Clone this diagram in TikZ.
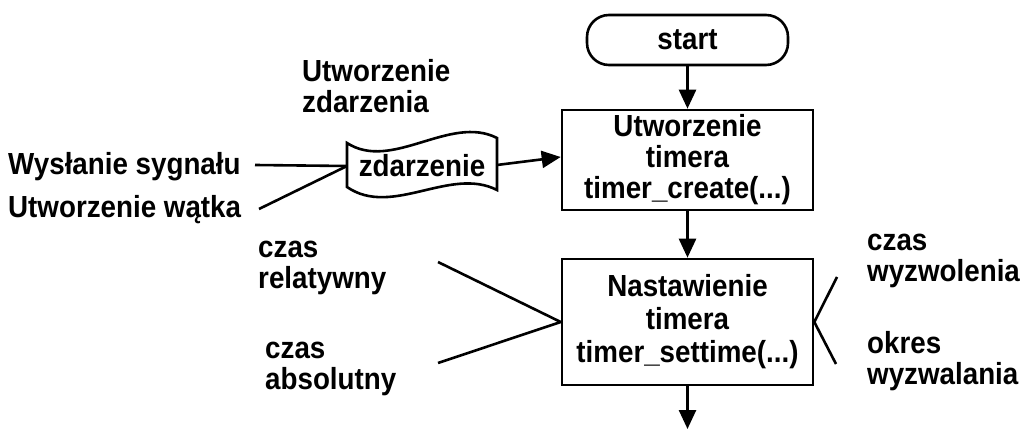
\documentclass[tikz,border=0pt]{standalone}
\usepackage{fontspec}
\setmainfont{Liberation Sans}[FakeStretch=0.91]
\usetikzlibrary{arrows.meta}
\begin{document}
\begin{tikzpicture}[x=1pt,y=-1pt,
  lbl/.style={font=\bfseries\fontsize{30.5}{31}\selectfont, inner sep=0pt, align=left, anchor=base west},
  boxtxt/.style={font=\bfseries\fontsize{30.5}{31}\selectfont, align=center},
  procbox/.style={draw, line width=2.6pt, inner sep=0pt, boxtxt},
  ln/.style={line width=2.6pt},
  arr/.style={line width=2.6pt, -{Triangle[length=19pt,width=17pt]}}]
\useasboundingbox (0,0) rectangle (1025,430);

% flow nodes
\node[procbox, rounded corners=22pt, minimum width=201pt, minimum height=50pt] (start) at (687.5,40) {start};
\node[procbox, minimum width=251pt, minimum height=100pt] (create) at (687.5,160) {Utworzenie\\timera\\timer\_create(...)};
\node[procbox, minimum width=251pt, minimum height=126pt, font=\bfseries\fontsize{30.5}{33}\selectfont] (settime) at (687.5,322) {Nastawienie\\timera\\timer\_settime(...)};
\coordinate (out) at (687.5,429);

% event (tape shape)
\node[boxtxt, inner sep=0pt, minimum width=150pt, minimum height=46pt] (zd) at (422,166) {zdarzenie};
\draw[ln, line join=miter]
  (347,143) .. controls (392,172) and (450,114) .. (497,138)
  -- (497,190)
  .. controls (450,166) and (392,218) .. (347,187) -- cycle;
\coordinate (zdw) at (347,166);
\coordinate (zde) at (497,165);

% labels (anchor = baseline of the last line)
\node[lbl] (lblUz) at (302,113) {Utworzenie\\zdarzenia};
\node[lbl] (lblWs) at (8,175) {Wysłanie sygnału};
\node[lbl] (lblUw) at (8,218) {Utworzenie wątka};
\node[lbl] (lblRel) at (258,288) {czas\\relatywny};
\node[lbl] (lblAbs) at (265,389) {czas\\absolutny};
\node[lbl] (lblWyz) at (867,282) {czas\\wyzwolenia};
\node[lbl] (lblOkr) at (867,384) {okres\\wyzwalania};

% free ends of the input lines
\coordinate (ws) at (255,165);
\coordinate (uw) at (259,209);
\coordinate (rel) at (438,262);
\coordinate (abs) at (438,363);
\coordinate (wyz) at (837,277);
\coordinate (okr) at (836,364);

% connectors
\draw[arr] (start) -- (create);
\draw[arr] (create) -- (settime);
\draw[arr] (settime) -- (out);
\draw[arr] (zde) -- (create.west |- 0,157);
\draw[ln] (ws) -- (zdw);
\draw[ln] (uw) -- (zdw);
\draw[ln] (rel) -- (settime.west);
\draw[ln] (abs) -- (settime.west);
\draw[ln] (wyz) -- (settime.east) -- (okr);
\end{tikzpicture}
\end{document}
